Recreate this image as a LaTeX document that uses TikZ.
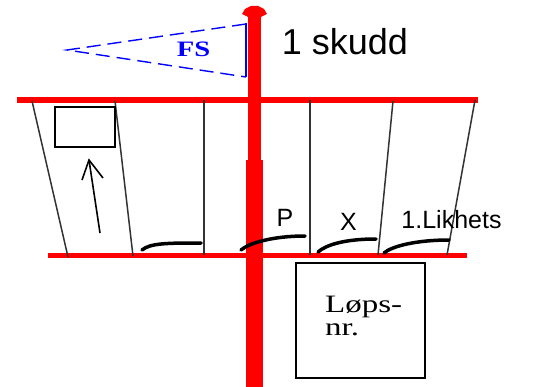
\documentclass[tikz,border=0pt]{standalone}
\usepackage{fontspec}
\setmainfont{Liberation Sans}
\newfontfamily\timesfont{Liberation Serif}
\def\swoop#1#2{
\draw[line width=3.5pt, line cap=round] #1 .. controls +(8,-7) and +(-32,0) .. #2;
}

\begin{document}
\begin{tikzpicture}[x=1pt, y=-1pt,
    post/.style={line width=1.5pt, black!80},
    lbl/.style={inner sep=0pt, font=\fontsize{25}{28}\selectfont}]
    \useasboundingbox (0,0) rectangle (553,387);
    % red bars
    \fill[red] (17,97) rectangle (478,103);
    \fill[red] (48,253) rectangle (467,258);
    % posts between the bars
    \draw[post] (32,101) -- (68,257);
    \draw[post] (115,101) -- (133,256);
    \draw[post] (204,100) -- (204,255);
    \draw[post] (310,100) -- (310,255);
    \draw[post] (393,101) -- (378,255);
    \draw[post] (475,100) -- (447,255);
    % pole
    \fill[red] (248,16) rectangle (261,160);
    \fill[red] (246,160) rectangle (263,387);
    \fill[red] (248,17) -- (242,14) -- (245,9) -- (251,6) -- (258,6) -- (264,9) -- (267,14) -- (261,17) -- cycle;
    % flag
    \draw[blue, line width=1.4pt, dash pattern=on 14pt off 7pt] (246,24) -- (67,50) -- (246,77);
    \draw[blue, line width=2pt] (246,23) -- (246,77);
    \node[blue, inner sep=0pt] (fs) at (193.5,49.5) {\timesfont\bfseries\fontsize{22}{24}\selectfont\scalebox{1.3}[1]{FS}};
    \node[inner sep=0pt] (skudd) at (345,41.5) {\fontsize{36}{40}\selectfont 1 skudd};
    % small box and arrow
    \draw[line width=1.6pt] (55,107) rectangle (115,147);
    \coordinate (tail) at (100,233);
    \coordinate (head) at (89,160);
    \draw[line width=1.6pt] (tail) -- (head);
    \draw[line width=1.6pt, line join=miter] (82,180) -- (head) -- (103,178);
    % curves
    \swoop{(142,250)}{(201,243)};
    \swoop{(241,250)}{(305,236)};
    \swoop{(318,252)}{(376,239)};
    \swoop{(384,253)}{(449,240)};
    \node[lbl] (p) at (285,217.5) {P};
    \node[lbl] (x) at (348.5,221.5) {X};
    \node[lbl] (likhets) at (451.5,220) {1.Likhets};
    % number box
    \draw[line width=2pt] (296,263) rectangle (425,378);
    \node[anchor=base west, inner sep=0pt] (lops) at (325,312) {\timesfont\fontsize{25}{28}\selectfont\scalebox{1.32}[1]{Løps-}};
    \node[anchor=base west, inner sep=0pt] (nr) at (325,335) {\timesfont\fontsize{25}{28}\selectfont\scalebox{1.32}[1]{nr.}};
\end{tikzpicture}
\end{document}
